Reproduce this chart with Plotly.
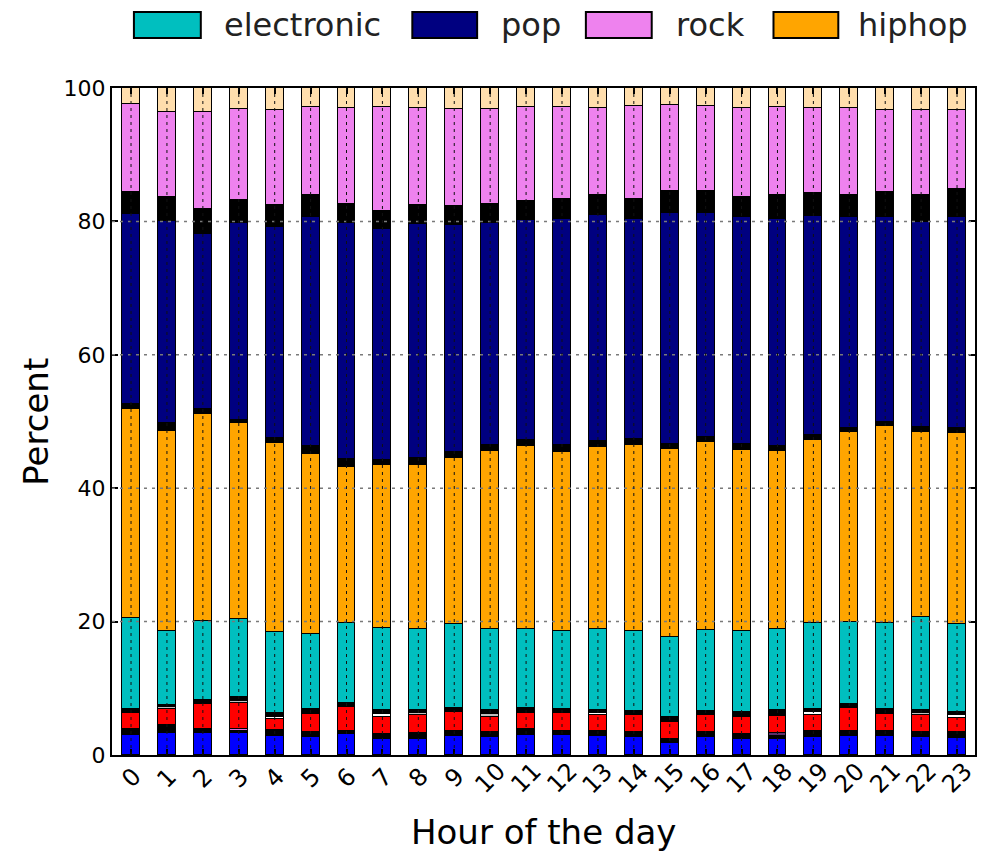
import plotly.graph_objects as go

# Hour of the day (x categories)
hours = list(range(24))
hour_labels = [str(h) for h in hours]

# Percent share per hour for each stacked layer (bottom to top)
blue_share = [3.0, 3.25, 3.25, 3.25, 2.85, 2.75, 3.1, 2.45, 2.45, 2.85, 2.75, 3.05,
              2.95, 2.85, 2.7, 1.75, 2.75, 2.35, 2.35, 2.75, 2.9, 2.9, 2.65, 2.6]
black_low = [0.85, 1.2, 0.45, 0.3, 0.9, 0.75, 0.55, 0.7, 0.8, 0.75, 0.7, 0.8,
             0.7, 0.75, 0.75, 0.6, 0.7, 0.8, 0.55, 0.8, 0.75, 0.75, 0.75, 0.8]
minor_low = [None, None, 0.25, 0.35, None, None, None, None, None, None, None, None,
             None, None, None, None, None, None, 0.35, None, None, None, None, None]
red_share = [2.4, 2.4, 3.65, 3.85, 1.6, 2.7, 3.5, 2.6, 2.7, 2.8, 2.3, 2.4,
             2.6, 2.4, 2.55, 2.6, 2.55, 2.6, 2.6, 2.5, 3.35, 2.5, 2.6, 2.2]
minor_mid = [None, 0.35, None, 0.35, 0.35, None, None, 0.35, 0.35, None, 0.35, None,
             None, 0.35, None, None, None, None, None, 0.35, None, None, 0.35, 0.35]
black_mid = [0.6, 0.3, 0.7, 0.65, 0.55, 0.7, 0.6, 0.6, 0.4, 0.65, 0.6, 0.8,
             0.6, 0.35, 0.6, 0.7, 0.6, 0.7, 0.85, 0.45, 0.65, 0.7, 0.35, 0.5]
electronic = [13.75, 11.1, 11.75, 11.6, 12.2, 11.3, 12.1, 12.4, 12.2, 12.6, 12.25, 11.9,
              11.7, 12.2, 12.05, 12.0, 12.2, 12.2, 12.2, 12.9, 12.35, 13.0, 14.05, 13.2]
hiphop = [31.3, 30.0, 31.1, 29.45, 28.35, 27.0, 23.35, 24.4, 24.6, 24.85, 26.65, 27.45,
          26.85, 27.3, 27.85, 28.25, 28.1, 27.15, 26.7, 27.45, 28.4, 29.45, 27.75, 28.65]
black_upper = [0.7, 1.2, 0.7, 0.5, 0.7, 1.2, 1.2, 0.7, 1.0, 0.9, 0.9, 0.9,
               1.1, 0.9, 0.9, 0.7, 0.8, 0.8, 0.8, 0.8, 0.7, 0.6, 0.7, 0.8]
pop = [28.5, 30.2, 26.2, 29.4, 31.7, 34.2, 35.3, 34.6, 35.1, 34.0, 33.2, 32.9,
       33.9, 33.8, 33.0, 34.6, 33.6, 34.1, 34.0, 32.8, 31.6, 30.8, 30.7, 31.6]
black_top = [3.3, 3.7, 3.8, 3.5, 3.2, 3.4, 2.9, 2.7, 2.9, 2.9, 2.9, 2.9,
             3.0, 3.0, 3.0, 3.3, 3.3, 2.9, 3.5, 3.4, 3.3, 3.7, 4.0, 4.2]
rock = [13.15, 12.75, 14.6, 13.6, 14.3, 13.2, 14.4, 15.7, 14.5, 14.6, 14.3, 14.1,
        13.7, 13.1, 13.9, 13.0, 12.7, 13.4, 13.3, 12.75, 12.95, 12.3, 12.8, 11.8]
other_top = [2.45, 3.55, 3.7, 3.2, 3.3, 2.8, 3.0, 2.8, 3.0, 3.1, 3.1, 2.8,
             2.9, 3.0, 2.7, 2.5, 2.7, 3.0, 2.8, 3.05, 3.05, 3.3, 3.3, 3.3]

legend_genres = ["electronic", "pop", "rock", "hiphop"]

# Per-hour fill colours of the two thin mixed layers
minor_low_colors = ["black"] * 24
minor_low_colors[2] = "#0b3d0b"
minor_low_colors[3] = "orchid"
minor_low_colors[18] = "#5b2f6b"
minor_mid_colors = ["white"] * 24
for h in (1, 3, 8, 10, 22):
    minor_mid_colors[h] = "#bdbdbd"

layers = [
    ("blue", blue_share, "#0000ff"),
    ("black_low", black_low, "#000000"),
    ("minor_low", minor_low, minor_low_colors),
    ("red", red_share, "#ff0000"),
    ("minor_mid", minor_mid, minor_mid_colors),
    ("black_mid", black_mid, "#000000"),
    ("electronic", electronic, "#00bfbf"),
    ("hiphop", hiphop, "#ffa500"),
    ("black_upper", black_upper, "#000000"),
    ("pop", pop, "#000080"),
    ("black_top", black_top, "#000000"),
    ("rock", rock, "#ee82ee"),
    ("other_top", other_top, "#ffdead"),
]
genre_colors = {"electronic": "#00bfbf", "pop": "#000080", "rock": "#ee82ee", "hiphop": "#ffa500"}

FONT = "DejaVu Sans"

fig = go.Figure()
for name, vals, color in layers:
    fig.add_trace(go.Bar(
        x=hours, y=vals, name=name, width=0.5,
        marker=dict(color=color, line=dict(color="black", width=1.5)),
        showlegend=False,
    ))

shapes = []
# dotted grid drawn over the bars
for v in (20, 40, 60, 80):
    shapes.append(dict(type="line", xref="paper", x0=0, x1=1, yref="y", y0=v, y1=v,
                       layer="above", line=dict(color="#7a7a7a", width=1.5, dash="3px,5px")))
for h in hours:
    shapes.append(dict(type="line", xref="x", x0=h, x1=h, yref="paper", y0=0, y1=1,
                       layer="above", line=dict(color="#111111", width=1, dash="3px,4px")))

# legend row above the plot
sw_x = [(0.0254, 0.1029), (0.3480, 0.4231), (0.5491, 0.6254), (0.7665, 0.8416)]
txt_x = [0.1271, 0.4486, 0.6509, 0.8624]
annotations = []
for g, (x0, x1), tx in zip(legend_genres, sw_x, txt_x):
    shapes.append(dict(type="rect", xref="paper", yref="paper", x0=x0, x1=x1,
                       y0=1.0750, y1=1.1139, fillcolor=genre_colors[g],
                       line=dict(color="black", width=2)))
    annotations.append(dict(text=g, xref="paper", yref="paper", x=tx, y=1.0945,
                            xanchor="left", yanchor="middle", showarrow=False,
                            font=dict(family=FONT, size=32, color="#222222")))

# rotated hour labels under each bar
for h, lab in zip(hours, hour_labels):
    annotations.append(dict(text=lab, xref="x", yref="paper", x=h, y=0, yshift=-23,
                            xanchor="center", yanchor="middle", textangle=-45,
                            showarrow=False, font=dict(family=FONT, size=24, color="black")))

annotations.append(dict(text="Hour of the day", xref="paper", yref="paper", x=0.5, y=-0.1154,
                        xanchor="center", yanchor="middle", showarrow=False,
                        font=dict(family=FONT, size=34, color="black")))
annotations.append(dict(text="Percent", xref="paper", yref="paper", x=-0.089, y=0.5,
                        xanchor="center", yanchor="middle", textangle=-90, showarrow=False,
                        font=dict(family=FONT, size=34, color="black")))

fig.update_layout(
    width=983, height=854,
    margin=dict(l=112, r=6, t=88, b=99),
    barmode="stack",
    bargap=0,
    plot_bgcolor="white", paper_bgcolor="white",
    showlegend=False,
    font=dict(family=FONT, color="black"),
    shapes=shapes,
    annotations=annotations,
    xaxis=dict(range=[-0.53, 23.5], tickvals=hours, showticklabels=False,
               ticks="inside", ticklen=6, tickwidth=1.5, tickcolor="black",
               showline=True, linecolor="black", linewidth=2, mirror="ticks",
               showgrid=False, zeroline=False),
    yaxis=dict(range=[0, 100], tickvals=[0, 20, 40, 60, 80, 100],
               ticks="inside", ticklen=6, tickwidth=1.5, tickcolor="black",
               tickfont=dict(family=FONT, size=22, color="black"),
               showline=True, linecolor="black", linewidth=2, mirror="ticks",
               showgrid=False, zeroline=False),
)

fig.write_html("out.html")
